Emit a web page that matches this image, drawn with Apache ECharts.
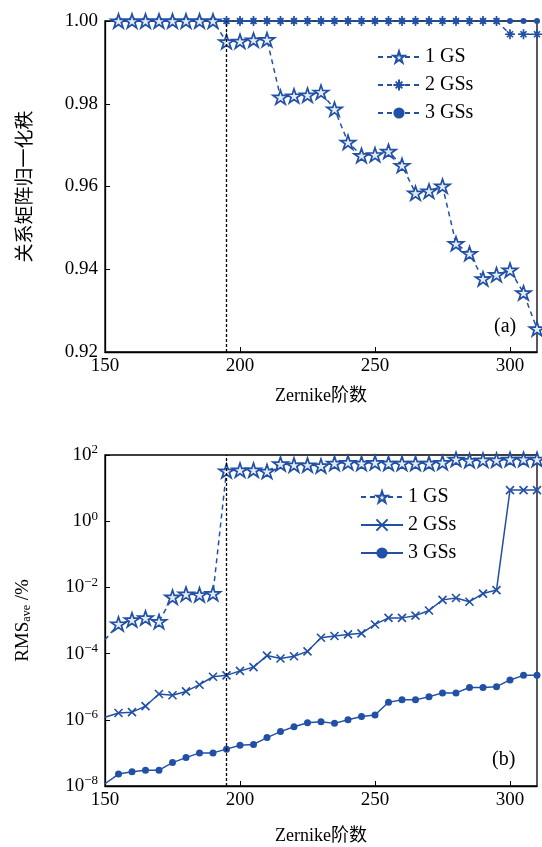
<!DOCTYPE html>
<html>
<head>
<meta charset="utf-8">
<script src="https://cdn.jsdelivr.net/npm/echarts@6/dist/echarts.min.js"></script>
<style>
  html, body { margin: 0; padding: 0; background: #fff; }
  #main { width: 542px; height: 847px; }
</style>
</head>
<body>
<div id="main"></div>
<script>
// (a) 关系矩阵归一化秩
const xTop = [155, 160, 165, 170, 175, 180, 185, 190, 195, 200, 205, 210, 215, 220, 225, 230,
  235, 240, 245, 250, 255, 260, 265, 270, 275, 280, 285, 290, 295, 300, 305, 310];
const gs1Top = [1, 1, 1, 1, 1, 1, 1, 1, 0.9950, 0.9951, 0.9954, 0.9955, 0.9816, 0.9819, 0.9821, 0.9828,
  0.9787, 0.9707, 0.9675, 0.9677, 0.9685, 0.9651, 0.9584, 0.9589, 0.9601, 0.9462, 0.9438, 0.9377, 0.9387, 0.9398, 0.9343, 0.9256];
const gs2Top = [1, 1, 1, 1, 1, 1, 1, 1, 1, 1, 1, 1, 1, 1, 1, 1,
  1, 1, 1, 1, 1, 1, 1, 1, 1, 1, 1, 1, 1, 0.9968, 0.9968, 0.9968];
const gs3Top = [1, 1, 1, 1, 1, 1, 1, 1, 1, 1, 1, 1, 1, 1, 1, 1,
  1, 1, 1, 1, 1, 1, 1, 1, 1, 1, 1, 1, 1, 1, 1, 1];

// (b) RMS_ave / %
const xBot = [150, 155, 160, 165, 170, 175, 180, 185, 190, 195, 200, 205, 210, 215, 220, 225, 230,
  235, 240, 245, 250, 255, 260, 265, 270, 275, 280, 285, 290, 295, 300, 305, 310];
const gs1Bot = [2.6e-4, 7.9e-4, 1.05e-3, 1.2e-3, 9.3e-4, 5.1e-3, 6.3e-3, 6.0e-3, 6.5e-3, 33, 35, 35, 32, 54, 50, 50, 47,
  56, 59, 56, 59, 56, 56, 56, 56, 59, 74, 68, 70, 70, 74, 74, 74];
const gs2Bot = [1.2e-6, 1.6e-6, 1.7e-6, 2.6e-6, 6.0e-6, 5.5e-6, 7.2e-6, 1.15e-5, 2.0e-5, 2.2e-5, 3.0e-5, 3.9e-5, 8.7e-5, 7.1e-5, 8.3e-5, 1.17e-4, 3.0e-4,
  3.4e-4, 3.8e-4, 4.1e-4, 7.6e-4, 1.2e-3, 1.2e-3, 1.4e-3, 2.0e-3, 4.2e-3, 4.8e-3, 3.7e-3, 6.5e-3, 8.3e-3, 8.7, 8.7, 8.7];
const gs3Bot = [1.17e-8, 2.3e-8, 2.7e-8, 3.0e-8, 3.0e-8, 5.1e-8, 7.2e-8, 1.0e-7, 1.0e-7, 1.3e-7, 1.7e-7, 1.8e-7, 2.9e-7, 4.4e-7, 6.2e-7, 8.1e-7, 8.7e-7,
  7.8e-7, 1.0e-6, 1.26e-6, 1.4e-6, 3.4e-6, 4.0e-6, 4.0e-6, 5.0e-6, 6.5e-6, 6.5e-6, 9.5e-6, 9.5e-6, 1.0e-5, 1.6e-5, 2.2e-5, 2.2e-5];

const names = ['1 GS', '2 GSs', '3 GSs'];
const markLineX = 195;

const blue = '#2150a4';
const serif = 'Liberation Serif, DejaVu Serif, serif';
const cjk = 'Liberation Serif, Noto Sans CJK SC, serif';

const starPath = 'path://M50,0L61.8,35.3L100,35.3L69.1,57.1L80.9,92.7L50,70.6L19.1,92.7L30.9,57.1L0,35.3L38.2,35.3Z';
const asterPath = 'path://M5,0L5,10M0,5L10,5M2,2L8,8M8,2L2,8';
const crossPath = 'path://M0,0L10,10M10,0L0,10';

function pairs(xs, ys, hideFirst) {
  return xs.map((x, i) => {
    if (hideFirst && i === 0) return { value: [x, ys[i]], symbol: 'none' };
    return [x, ys[i]];
  });
}

const chart = echarts.init(document.getElementById('main'), null, { renderer: 'canvas' });

const vline = {
  silent: true,
  symbol: 'none',
  label: { show: false },
  lineStyle: { color: '#000', type: [3, 2], width: 1.3 },
  data: [{ xAxis: markLineX }]
};

function xAx(gridIndex, gap) {
  return {
    type: 'value', gridIndex: gridIndex, min: 150, max: 310, interval: 50,
    name: 'Zernike阶数', nameLocation: 'middle', nameGap: gap,
    nameTextStyle: { fontFamily: cjk, fontSize: 18, color: '#000' },
    axisLine: { lineStyle: { color: '#000', width: 1.3 } },
    axisTick: { inside: true, length: 5, lineStyle: { color: '#000' } },
    axisLabel: { fontFamily: serif, fontSize: 19, color: '#000', margin: 5, showMaxLabel: false },
    splitLine: { show: false }
  };
}

const option = {
  animation: false,
  grid: [
    { left: 105, top: 21, width: 432, height: 331, show: true, borderColor: '#000', borderWidth: 1.3 },
    { left: 105, top: 455, width: 432, height: 331, show: true, borderColor: '#000', borderWidth: 1.3 }
  ],
  legend: [
    {
      data: names, left: 372, top: 42, orient: 'vertical', itemGap: 8, itemWidth: 42, itemHeight: 14,
      textStyle: { fontFamily: serif, fontSize: 20, color: '#000' },
      seriesIndex: [0, 1, 2]
    }
  ],
  xAxis: [xAx(0, 35), xAx(1, 41)],
  yAxis: [
    {
      type: 'value', gridIndex: 0, min: 0.92, max: 1.0, interval: 0.02,
      name: '关系矩阵归一化秩', nameLocation: 'middle', nameGap: 72, nameRotate: 90,
      nameTextStyle: { fontFamily: 'Noto Sans CJK SC', fontSize: 19, color: '#000' },
      axisLine: { lineStyle: { color: '#000', width: 1.3 } },
      axisTick: { inside: true, length: 5, lineStyle: { color: '#000' } },
      axisLabel: { fontFamily: serif, fontSize: 19, color: '#000', margin: 7, formatter: v => v.toFixed(2) },
      splitLine: { show: false }
    },
    {
      type: 'log', gridIndex: 1, min: 1e-8, max: 100, logBase: 10, interval: 2,
      name: '{a|RMS}{b|ave}{a| /%}', nameLocation: 'middle', nameGap: 72, nameRotate: 90,
      nameTextStyle: {
        rich: {
          a: { fontFamily: serif, fontSize: 19, color: '#000' },
          b: { fontFamily: serif, fontSize: 12, color: '#000', padding: [8, 0, 0, 0] }
        }
      },
      axisLine: { lineStyle: { color: '#000', width: 1.3 } },
      axisTick: { inside: true, length: 5, lineStyle: { color: '#000' } },
      minorTick: { show: false },
      axisLabel: {
        color: '#000', margin: 7,
        formatter: v => {
          const e = Math.round(Math.log10(v));
          return '{m|10}{s|' + (e < 0 ? '\u2212' + (-e) : e) + '}';
        },
        rich: {
          m: { fontFamily: serif, fontSize: 19, color: '#000' },
          s: { fontFamily: serif, fontSize: 13, color: '#000', padding: [0, 0, 10, 0] }
        }
      },
      splitLine: { show: false }
    }
  ],
  graphic: [
    { type: 'text', left: 494, top: 317, style: { text: '(a)', font: '20px ' + serif, fill: '#000' } },
    { type: 'text', left: 492, top: 750, style: { text: '(b)', font: '20px ' + serif, fill: '#000' } }
  ],
  series: [
    {
      name: names[0], type: 'line', xAxisIndex: 0, yAxisIndex: 0, data: pairs(xTop, gs1Top),
      symbol: starPath, symbolSize: 15, symbolKeepAspect: true, z: 4,
      lineStyle: { color: blue, width: 1.5, type: [5, 4] },
      itemStyle: { color: '#e6ecf7', borderColor: blue, borderWidth: 1.7 },
      markLine: vline
    },
    {
      name: names[1], type: 'line', xAxisIndex: 0, yAxisIndex: 0, data: pairs(xTop, gs2Top),
      symbol: asterPath, symbolSize: 10, symbolKeepAspect: true, z: 3,
      lineStyle: { color: blue, width: 1.5, type: [5, 4] },
      itemStyle: { color: blue, borderColor: blue, borderWidth: 1.7 }
    },
    {
      name: names[2], type: 'line', xAxisIndex: 0, yAxisIndex: 0, data: pairs(xTop, gs3Top),
      symbol: 'circle', symbolSize: 6, z: 2,
      lineStyle: { color: blue, width: 1.5, type: [5, 4] },
      itemStyle: { color: blue }
    },
    {
      name: 'b1', type: 'line', xAxisIndex: 1, yAxisIndex: 1, data: pairs(xBot, gs1Bot, true),
      symbol: starPath, symbolSize: 15, symbolKeepAspect: true, z: 4,
      lineStyle: { color: blue, width: 1.5, type: [5, 4] },
      itemStyle: { color: '#e6ecf7', borderColor: blue, borderWidth: 1.7 },
      markLine: vline
    },
    {
      name: 'b2', type: 'line', xAxisIndex: 1, yAxisIndex: 1, data: pairs(xBot, gs2Bot, true),
      symbol: crossPath, symbolSize: 8, symbolKeepAspect: true, z: 3,
      lineStyle: { color: blue, width: 1.5 },
      itemStyle: { color: blue, borderColor: blue, borderWidth: 1.6 }
    },
    {
      name: 'b3', type: 'line', xAxisIndex: 1, yAxisIndex: 1, data: pairs(xBot, gs3Bot, true),
      symbol: 'circle', symbolSize: 7, z: 2,
      lineStyle: { color: blue, width: 1.5 },
      itemStyle: { color: blue }
    }
  ]
};

// second legend for panel (b): different line styles
option.legend.push({
  data: ['b1', 'b2', 'b3'], left: 355, top: 482, orient: 'vertical', itemGap: 8, itemWidth: 42, itemHeight: 14,
  formatter: n => names[['b1', 'b2', 'b3'].indexOf(n)],
  textStyle: { fontFamily: serif, fontSize: 20, color: '#000' }
});

chart.setOption(option);
</script>
</body>
</html>
